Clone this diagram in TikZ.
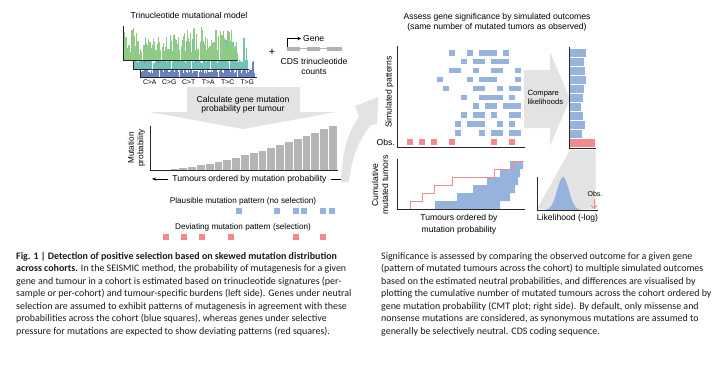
\documentclass[tikz,border=0pt]{standalone}
\usepackage{fontspec}
\setmainfont{Liberation Sans}
\newfontfamily\capfont{Carlito}
\usetikzlibrary{arrows.meta}
\definecolor{cellblue}{HTML}{95B3DD}
\definecolor{cellred}{HTML}{F28B8B}
\definecolor{lgray}{HTML}{E3E3E3}
\definecolor{bargray}{HTML}{B4B6B6}
\definecolor{hgreen}{HTML}{8FCB84}
\definecolor{hteal}{HTML}{6FC2B8}
\definecolor{hblue}{HTML}{6C7FC0}
\definecolor{genegray}{HTML}{B2B2B2}
\definecolor{captext}{HTML}{1A1A1A}
\begin{document}
\begin{tikzpicture}[x=1pt,y=-1pt,
  lbl/.style={inner sep=0pt, align=center, font=\fontsize{8.6}{10}\selectfont},
  lblm/.style={inner sep=0pt, align=center, font=\fontsize{8.2}{9.5}\selectfont},
  lbls/.style={inner sep=0pt, align=left, font=\fontsize{7.6}{9}\selectfont},
  mutlbl/.style={inner sep=0pt, font=\fontsize{6.8}{7}\selectfont},
  axisline/.style={line width=0.9pt, black!85},
  thinarrow/.style={-{Stealth[length=4pt,width=3pt]}, line width=0.6pt},
  capline/.style={anchor=base west, inner sep=0pt, font=\capfont\fontsize{9.95}{11}\selectfont, text=captext},
  bcell/.style={fill=cellblue},
  rcell/.style={fill=cellred},
]
\useasboundingbox (0,0) rectangle (725,364);

% ---------------- trinucleotide model ----------------
\node[lbl] (tmm) at (189,15) {Trinucleotide mutational model};
\pgfmathsetseed{7}
% back layer (blue)
\foreach \i in {0,...,95}{
  \pgfmathsetmacro\hh{4+20*rnd*rnd}
  \fill[hblue] ({140+1.2*\i},77) rectangle ++(1.25,{-\hh});
}
\foreach \c in {1,...,5}{\draw[white, line width=0.8pt] ({140+19.5*\c},77) -- ++(0,-25);}
\draw[axisline] (140,69) -- (140,77) -- (257,77);
% middle layer (teal)
\foreach \i in {0,...,95}{
  \pgfmathsetmacro\hh{6+32*rnd*rnd}
  \fill[hteal] ({133+1.2*\i},69) rectangle ++(1.25,{-\hh});
}
\foreach \c in {1,...,5}{\draw[white, line width=0.8pt] ({133+19.3*\c},69) -- ++(0,-38);}
\draw[axisline] (133,60) -- (133,69) -- (249,69);
% front layer (green)
\foreach \i in {0,...,95}{
  \pgfmathsetmacro\hh{6+27*rnd}
  \fill[hgreen] ({123+1.2*\i},60) rectangle ++(1.25,{-\hh});
}
\foreach \c in {1,...,5}{\draw[white, line width=0.8pt] ({123+19.2*\c},60) -- ++(0,-33);}
\draw[axisline] (123,26) -- (123,60) -- (238,60);
\foreach \t [count=\c from 0] in {C>A,C>G,C>T,T>A,T>C,T>G}{
  \node[mutlbl] (mut\c) at ({140+19.5*(\c+0.5)},82) {\t};
}

% ---------------- gene / CDS ----------------
\node[inner sep=0pt, font=\fontsize{11}{11}\selectfont] (plus) at (272,52) {+};
\fill[genegray] (287,46.5) rectangle (300,50.5);
\fill[genegray] (307,46.5) rectangle (320,50.5);
\fill[genegray] (327,46.5) rectangle (342,50.5);
\draw[genegray, line width=0.9pt] (300,48.5) -- (307,48.5) (320,48.5) -- (327,48.5);
\node[lbl, anchor=west] (gene) at (303,38.5) {Gene};
\coordinate (gstart) at (287.3,46.5);
\draw[-{Stealth[length=3.5pt,width=3.5pt]}, line width=0.7pt] (gstart) |- ([xshift=-2pt]gene.west);
\node[lbl] (cds) at (314,66.5) {CDS trinucleotide\\counts};

% ---------------- calculate chevron ----------------
\fill[lgray] (187,87) -- (300,87) -- (300,112) -- (336,112) -- (243,129) -- (150,112) -- (187,112) -- cycle;
\node[lbl, font=\fontsize{8.6}{9.4}\selectfont] (calc) at (243,104.5) {Calculate gene mutation\\probability per tumour};

% ---------------- mutation probability bars ----------------
\foreach \i in {1,...,20}{
  \pgfmathsetmacro\hh{44*pow(\i/20,1.6)}
  \fill[bargray] ({161+8.8*(\i-1)},170) rectangle ++(8.8,{-\hh});
  \draw[white, line width=0.5pt] ({161+8.8*(\i-1)},170) -- ++(0,{-\hh});
}
\draw[axisline] (150,126) -- (150,170) -- (338,170);
\node[lbl, rotate=90, font=\fontsize{8.2}{9.6}\selectfont] (mprob) at (136.5,148) {Mutation\\probability};
\node[lbl] (tord) at (249.5,179) {Tumours ordered by mutation probability};
\coordinate (tordL) at (152,179);
\coordinate (tordR) at (346,179);
\draw[thinarrow] ([xshift=-4pt]tord.west) -- (tordL);
\draw[thinarrow] ([xshift=4pt]tord.east) -- (tordR);

% ---------------- patterns ----------------
\node[lblm] (plaus) at (243,201) {Plausible mutation pattern (no selection)};
\foreach \x in {239,277,296,304,323,332}{\fill[bcell] ({\x-3.2},207.8) rectangle ++(6.4,6.4);}
\node[lblm] (devi) at (243,227) {Deviating mutation pattern (selection)};
\foreach \x in {166,184,202,231,296,323}{\fill[rcell] ({\x-3.2},233.8) rectangle ++(6.4,6.4);}

% ---------------- big curved arrow ----------------
\fill[lgray] (341,182) .. controls (342,150) and (349,130) .. (359,117) -- (355,106) -- (378.5,97) -- (377,124) -- (371,125) .. controls (362,136) and (352,152) .. (349,182) -- cycle;

% ---------------- right panel: simulated patterns ----------------
\node[lbl] (assess) at (497,22) {Assess gene significance by simulated outcomes\\(same number of mutated tumors as observed)};
\foreach \r/\cols in {1/{11,14,16,17,18,20},2/{13,15,16,18,19,20},3/{11,12,15,18,19,22},4/{9,14,16,17,18,22},5/{10,15,16,19,21,22},6/{13,16,17,18,19,21},7/{15,17,18,20,21,22},8/{13,15,16,18,21,22},9/{12,14,15,16,19,21},10/{12,16,18,19,21,22}}{
  \foreach \k in \cols {
    \fill[bcell] ({383+6*\k},{52.7+8.93*(\r-1)-2.85}) rectangle ++(6,5.7);
  }
}
\foreach \k in {4,6,8,11,18,21}{\fill[rcell] ({383.3+6*\k},139.2) rectangle ++(5.5,5.7);}
\draw[axisline] (397,46) -- (397,147.5) -- (525,147.5);
\node[lbl, rotate=90] (simp) at (389.5,92) {Simulated patterns};
\node[lbl, anchor=east] (obs1) at (395,142) {Obs.};

% compare arrow
\fill[lgray] (524,70) -- (550,70) -- (550,52) -- (570,99) -- (550,146) -- (550,128) -- (524,128) -- cycle;
\node[lbls, anchor=west] (cmp) at (527.5,97.5) {Compare\\likelihoods};

% likelihood bars
\foreach \len [count=\j from 0] in {16,14,15,16,14,13,11,13,15,12}{
  \fill[bcell] (569.5,{53+9*\j-3.7}) rectangle ++(\len,7.4);
}
\fill[rcell] (569.5,139) rectangle (595,147.2);
\draw[axisline] (569,46.5) -- (569,148) -- (596,148);

% funnel
\fill[lgray] (570,150) -- (595.5,150) -- (595.5,209) -- (537,209) -- cycle;
% density
\fill[cellblue] (540,210) -- plot[domain=540:592, samples=70, smooth] (\x,{210-33*exp(-((\x-563)*(\x-563))/(2*5.8*5.8))}) -- (592,210) -- cycle;
\draw[axisline] (537,177) -- (537,210) -- (598,210);
\node[inner sep=0pt, font=\fontsize{7}{8}\selectfont] (obs2) at (595,193.5) {Obs.};
\coordinate (obsTip) at (594,209);
\draw[cellred, line width=0.9pt, -{Straight Barb[length=3pt,width=6pt]}] ([yshift=-2.5pt]obs2.south -| obsTip) -- (obsTip);
\node[lbl] (likl) at (567.5,218) {Likelihood (-log)};

% CMT plot
\fill[cellblue] (435,209) -- (435,201) -- (457,201) -- (457,193) -- (473,193) -- (473,185) -- (487,185) -- (487,177) -- (500,177) -- (500,169) -- (510,169) -- (510,161) -- (523,161) -- (523,169) -- (520,169) -- (520,177) -- (518,177) -- (518,185) -- (515,185) -- (515,193) -- (510,193) -- (510,201) -- (500,201) -- (500,209) -- cycle;
\draw[cellred, line width=0.8pt] (397,209) -- (410,209) -- (410,201) -- (422,201) -- (422,193) -- (434,193) -- (434,185) -- (452,185) -- (452,177) -- (494,177) -- (494,169) -- (512,169) -- (512,161) -- (523.5,161);
\draw[axisline] (397,159) -- (397,209.5) -- (525,209.5);
\node[lbl, rotate=90] (cumt) at (380,185) {Cumulative\\mutated tumors};
\node[lbl, font=\fontsize{8.6}{12.2}\selectfont] (tord2) at (459,224) {Tumours ordered by\\mutation probability};

% ---------------- captions ----------------
\node[capline] (cl1) at (16,259.3) {\textbf{Fig. 1 | Detection of positive selection based on skewed mutation distribution}};
\node[capline] (cl2) at (16,271.8) {\textbf{across cohorts.} In the SEISMIC method, the probability of mutagenesis for a given};
\node[capline] (cl3) at (16,284.3) {gene and tumour in a cohort is estimated based on trinucleotide signatures (per-};
\node[capline] (cl4) at (16,296.8) {sample or per-cohort) and tumour-specific burdens (left side). Genes under neutral};
\node[capline] (cl5) at (16,309.3) {selection are assumed to exhibit patterns of mutagenesis in agreement with these};
\node[capline] (cl6) at (16,321.8) {probabilities across the cohort (blue squares), whereas genes under selective};
\node[capline] (cl7) at (16,334.3) {pressure for mutations are expected to show deviating patterns (red squares).};

\node[capline] (cr1) at (381,259.3) {Significance is assessed by comparing the observed outcome for a given gene};
\node[capline] (cr2) at (381,271.8) {(pattern of mutated tumours across the cohort) to multiple simulated outcomes};
\node[capline] (cr3) at (381,284.3) {based on the estimated neutral probabilities, and differences are visualised by};
\node[capline] (cr4) at (381,296.8) {plotting the cumulative number of mutated tumours across the cohort ordered by};
\node[capline] (cr5) at (381,309.3) {gene mutation probability (CMT plot; right side). By default, only missense and};
\node[capline] (cr6) at (381,321.8) {nonsense mutations are considered, as synonymous mutations are assumed to};
\node[capline] (cr7) at (381,334.3) {generally be selectively neutral. CDS coding sequence.};
\end{tikzpicture}
\end{document}
